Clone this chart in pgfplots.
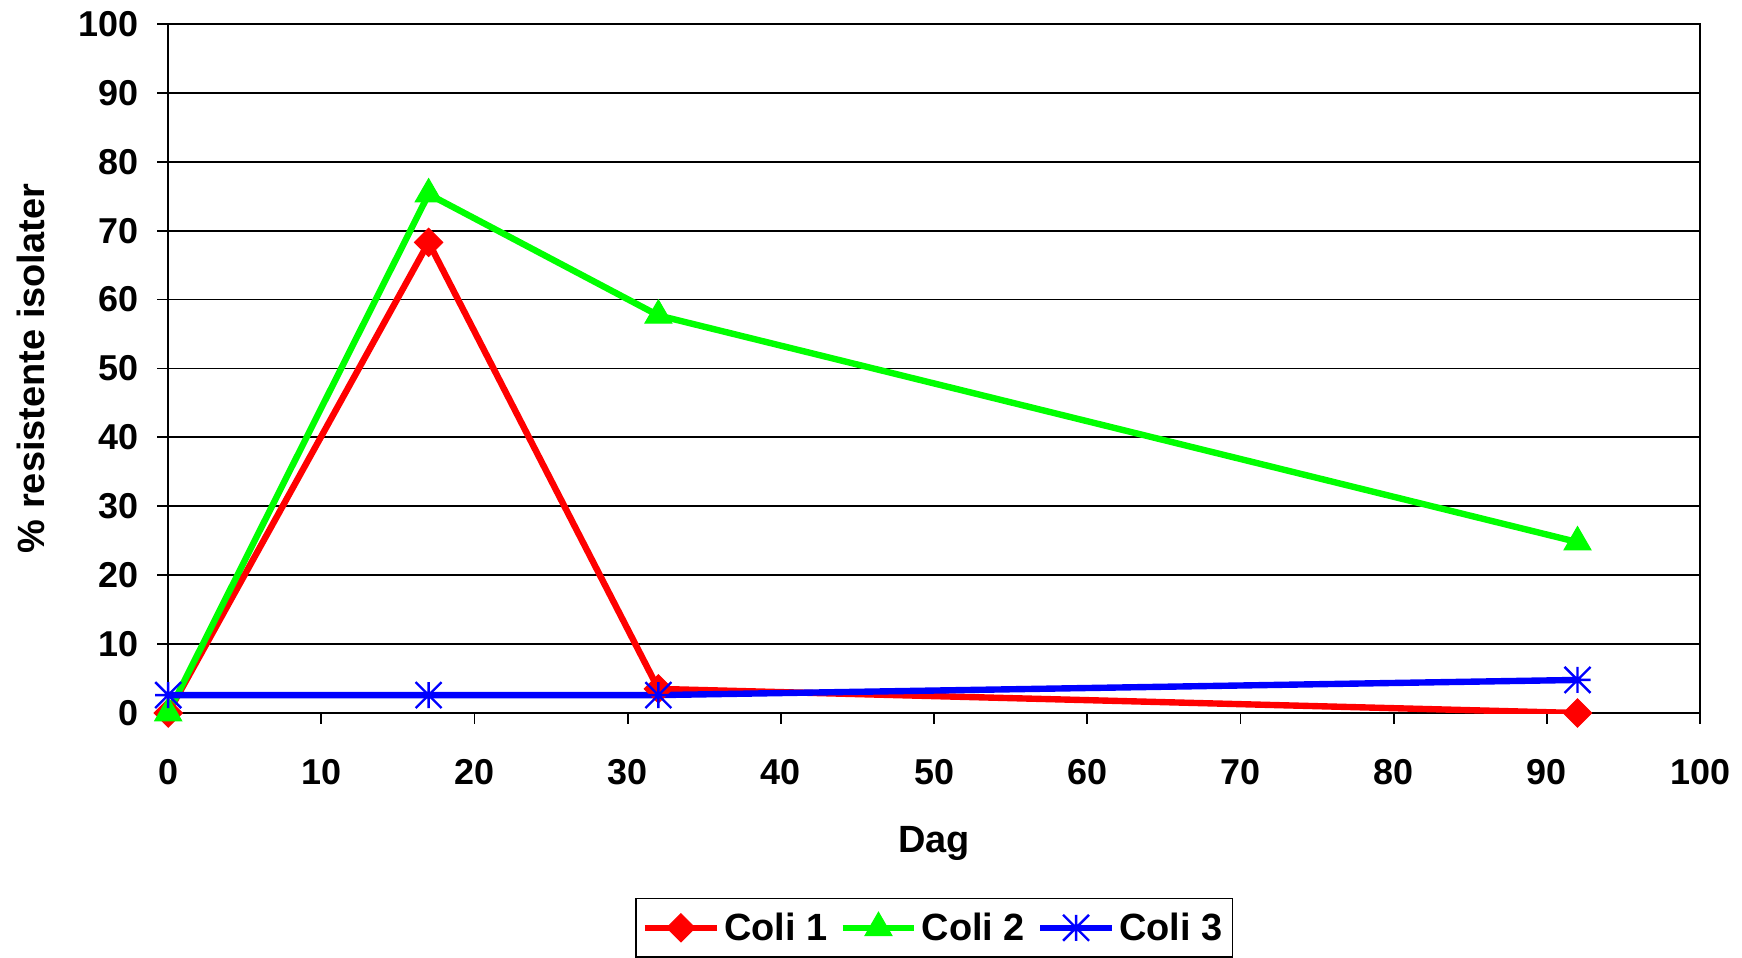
\documentclass[border=0pt]{standalone}
\usepackage{fontspec}
\setmainfont{Liberation Sans}
\usepackage{pgfplots}
\pgfplotsset{compat=1.18}

\definecolor{cred}{RGB}{255,0,0}
\definecolor{cgreen}{RGB}{0,255,0}
\definecolor{cblue}{RGB}{0,0,255}

% eight-armed star like the spreadsheet marker
\pgfdeclareplotmark{star8}{%
  \pgfpathmoveto{\pgfqpoint{0pt}{\pgfplotmarksize}}%
  \pgfpathlineto{\pgfqpoint{0pt}{-\pgfplotmarksize}}%
  \pgfpathmoveto{\pgfqpoint{\pgfplotmarksize}{0pt}}%
  \pgfpathlineto{\pgfqpoint{-\pgfplotmarksize}{0pt}}%
  \pgfpathmoveto{\pgfqpoint{\pgfplotmarksize}{\pgfplotmarksize}}%
  \pgfpathlineto{\pgfqpoint{-\pgfplotmarksize}{-\pgfplotmarksize}}%
  \pgfpathmoveto{\pgfqpoint{-\pgfplotmarksize}{\pgfplotmarksize}}%
  \pgfpathlineto{\pgfqpoint{\pgfplotmarksize}{-\pgfplotmarksize}}%
  \pgfusepathqstroke}

\begin{document}
\begin{tikzpicture}
\begin{axis}[
    scale only axis,
    width=767pt, height=345pt,
    xmin=0, xmax=100, ymin=0, ymax=100,
    xtick={0,10,...,100}, ytick={0,10,...,100},
    tick align=outside, tick pos=left,
    major tick length=5.5pt,
    every tick/.style={black, line width=0.9pt},
    axis line style={line width=0.9pt},
    ymajorgrids,
    major grid style={black, line width=0.9pt},
    font=\fontsize{19}{22}\selectfont\bfseries,
    /pgf/number format/assume math mode=true,
    ticklabel style={font=\fontsize{18}{21}\selectfont\bfseries},
    xticklabel style={yshift=-14pt},
    yticklabel style={xshift=-6pt},
    xlabel={Dag},
    ylabel={\% resistente isolater},
    xlabel style={yshift=-14pt},
    ylabel style={yshift=10pt},
    legend columns=3,
    legend style={at={(0.5,-0.268)}, anchor=north, draw=black,
        line width=0.9pt, font=\fontsize{19}{22}\selectfont\bfseries,
        /tikz/every even column/.append style={column sep=4pt},
        inner xsep=3pt, inner ysep=5pt},
    legend image code/.code={%
        \draw[#1, mark repeat=2, mark phase=2]
            plot coordinates {(0pt,0pt) (18pt,0pt) (36pt,0pt)};},
]
\addplot[color=cred, line width=3.2pt, mark=square*,
    mark size=5pt, mark options={rotate=45, solid, line width=0.5pt}]
    coordinates {(0,0) (17,68.3) (32,3.5) (92,0)};
\addlegendentry{Coli 1}
\addplot[color=cgreen, line width=3.2pt, mark=triangle*,
    mark size=7.8pt, mark options={solid, line width=0.5pt}]
    coordinates {(0,0) (17,75.3) (32,57.7) (92,24.8)};
\addlegendentry{Coli 2}
\addplot[color=cblue, line width=3.2pt, mark=star8,
    mark size=6.5pt, mark options={solid, line width=1.2pt}]
    coordinates {(0,2.6) (17,2.6) (32,2.6) (92,4.8)};
\addlegendentry{Coli 3}
\end{axis}
% white margins as in the original
\path ([xshift=-5pt]current axis.outer west);
\path ([xshift=21pt]current axis.east);
\path ([yshift=12pt]current axis.north);
\end{tikzpicture}
\end{document}
